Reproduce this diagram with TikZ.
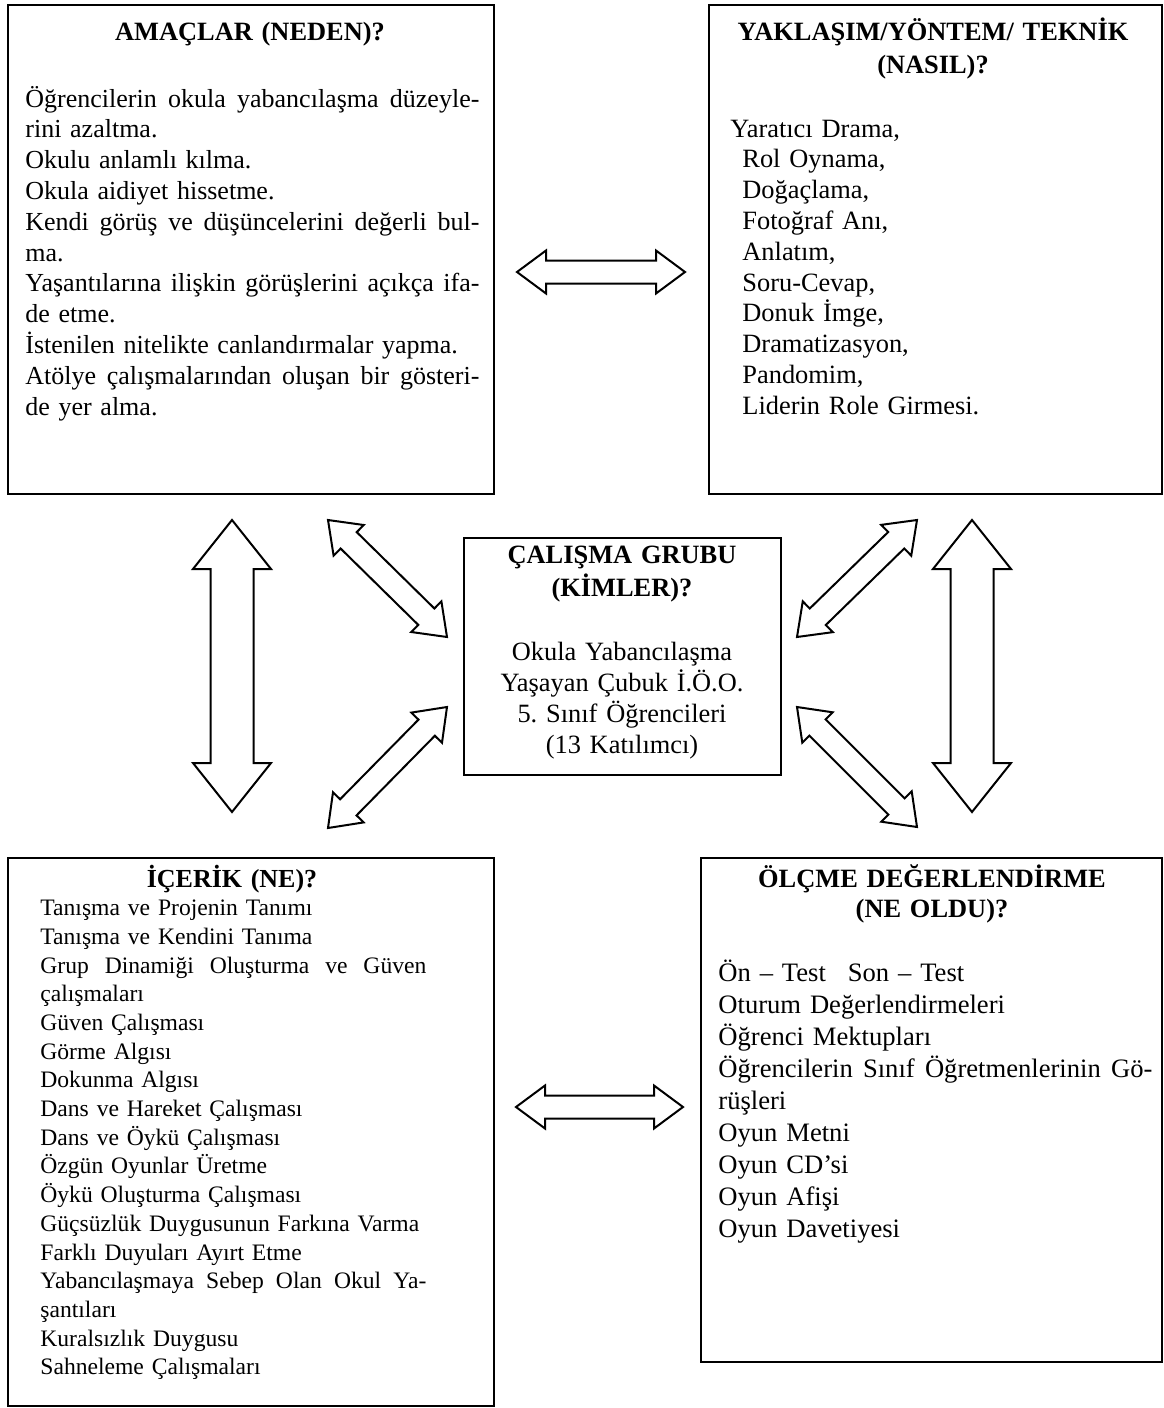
\documentclass[tikz,border=0pt]{standalone}
\usepackage{fontspec}
\setmainfont{Liberation Serif}
\usetikzlibrary{calc}
\frenchspacing

% a justified line: width, text (spaces stretched to the width)
\newcommand{\jsatir}[2]{\makebox[#1][s]{\spaceskip=0pt\xspaceskip=0pt #2}}

\begin{document}
\begin{tikzpicture}[x=0.5pt, y=-0.5pt,
    kutu/.style={draw, line width=1.2pt, anchor=north west, inner sep=0pt},
    baslik/.style={font=\bfseries\fontsize{13.2}{16.5}\selectfont, text width=230pt, align=center, inner sep=0pt, anchor=base},
    metin/.style={font=\fontsize{13.2}{15.4}\selectfont, align=left, inner sep=0pt, anchor=base west},
    blokok/.style n args={3}{line width=1pt, to path={
      -- ($(\tikztostart)!#1!(\tikztotarget)!#2!90:(\tikztotarget)$)
      -- ($(\tikztostart)!#1!(\tikztotarget)!#3!90:(\tikztotarget)$)
      -- ($(\tikztotarget)!#1!(\tikztostart)!#3!-90:(\tikztostart)$)
      -- ($(\tikztotarget)!#1!(\tikztostart)!#2!-90:(\tikztostart)$)
      -- (\tikztotarget)
      -- ($(\tikztotarget)!#1!(\tikztostart)!#2!90:(\tikztostart)$)
      -- ($(\tikztotarget)!#1!(\tikztostart)!#3!90:(\tikztostart)$)
      -- ($(\tikztostart)!#1!(\tikztotarget)!#3!-90:(\tikztotarget)$)
      -- ($(\tikztostart)!#1!(\tikztotarget)!#2!-90:(\tikztotarget)$)
      -- cycle}},
    kucukok/.style={blokok={14.5pt}{10.75pt}{5.75pt}},
    buyukok/.style={blokok={24.5pt}{19.5pt}{10.75pt}}]

    \useasboundingbox (0,0) rectangle (1163,1408);

    % Amaclar
    \node[kutu, minimum width=243pt, minimum height=244.5pt] (amac) at (7,4) {};
    \node[baslik] (amacbas) at (250,40) {AMAÇLAR (NEDEN)?};
    \node[metin, text width=227pt, font=\fontsize{13}{15.4}\selectfont] (amacmet) at (25,107) {
        \jsatir{227pt}{Öğrencilerin okula yabancılaşma düzeyle-}\\
        rini azaltma.\\
        Okulu anlamlı kılma.\\
        Okula aidiyet hissetme.\\
        \jsatir{227pt}{Kendi görüş ve düşüncelerini değerli bul-}\\
        ma.\\
        \jsatir{227pt}{Yaşantılarına ilişkin görüşlerini açıkça ifa-}\\
        de etme.\\
        İstenilen nitelikte canlandırmalar yapma.\\
        \jsatir{227pt}{Atölye çalışmalarından oluşan bir gösteri-}\\
        de yer alma.};

    % Yontem
    \node[kutu, minimum width=226.5pt, minimum height=244.5pt] (yontem) at (708,4) {};
    \node[baslik] (yontembas) at (933,40) {YAKLAŞIM/YÖNTEM/ TEKNİK\\(NASIL)?};
    \node[metin, text width=200pt] (yontemmet) at (730,137) {
        Yaratıcı Drama,\\
        \hspace*{6pt}Rol Oynama,\\
        \hspace*{6pt}Doğaçlama,\\
        \hspace*{6pt}Fotoğraf Anı,\\
        \hspace*{6pt}Anlatım,\\
        \hspace*{6pt}Soru-Cevap,\\
        \hspace*{6pt}Donuk İmge,\\
        \hspace*{6pt}Dramatizasyon,\\
        \hspace*{6pt}Pandomim,\\
        \hspace*{6pt}Liderin Role Girmesi.};

    % Calisma grubu
    \node[kutu, minimum width=158.5pt, minimum height=118.5pt] (grup) at (463,537) {};
    \node[baslik, text width=150pt] (grupbas) at (622,563) {ÇALIŞMA GRUBU\\(KİMLER)?};
    \node[metin, text width=150pt, align=center, anchor=base, font=\fontsize{13.2}{15.5}\selectfont] (grupmet) at (622,660) {
        Okula Yabancılaşma\\
        Yaşayan Çubuk İ.Ö.O.\\
        5. Sınıf Öğrencileri\\
        (13 Katılımcı)};

    % Icerik
    \node[kutu, minimum width=243pt, minimum height=274pt] (icerik) at (7,857) {};
    \node[baslik, font=\bfseries\fontsize{13}{16}\selectfont] (icerikbas) at (232,887) {İÇERİK (NE)?};
    \node[metin, text width=193pt, font=\fontsize{11.8}{14.35}\selectfont] (icerikmet) at (40,915.6) {
        Tanışma ve Projenin Tanımı\\
        Tanışma ve Kendini Tanıma\\
        \jsatir{193pt}{Grup Dinamiği Oluşturma ve Güven}\\
        çalışmaları\\
        Güven Çalışması\\
        Görme Algısı\\
        Dokunma Algısı\\
        Dans ve Hareket Çalışması\\
        Dans ve Öykü Çalışması\\
        Özgün Oyunlar Üretme\\
        Öykü Oluşturma Çalışması\\
        Güçsüzlük Duygusunun Farkına Varma\\
        Farklı Duyuları Ayırt Etme\\
        \jsatir{193pt}{Yabancılaşmaya Sebep Olan Okul Ya-}\\
        şantıları\\
        Kuralsızlık Duygusu\\
        Sahneleme Çalışmaları};

    % Olcme
    \node[kutu, minimum width=230.5pt, minimum height=252pt] (olcme) at (700,857) {};
    \node[baslik, font=\bfseries\fontsize{13.2}{15}\selectfont] (olcmebas) at (932,887) {ÖLÇME DEĞERLENDİRME\\(NE OLDU)?};
    \node[metin, text width=217pt, font=\fontsize{13.3}{16}\selectfont] (olcmemet) at (718,981) {
        Ön – Test\hspace{11pt}Son – Test\\
        Oturum Değerlendirmeleri\\
        Öğrenci Mektupları\\
        \jsatir{217pt}{Öğrencilerin Sınıf Öğretmenlerinin Gö-}\\
        rüşleri\\
        Oyun Metni\\
        Oyun CD’si\\
        Oyun Afişi\\
        Oyun Davetiyesi};

    % Arrow ends
    \coordinate (ust1) at (517,272);   \coordinate (ust2) at (685,272);
    \coordinate (alt1) at (516,1107);  \coordinate (alt2) at (683,1107);
    \coordinate (sol1) at (232,520);   \coordinate (sol2) at (232,812);
    \coordinate (sag1) at (972,520);   \coordinate (sag2) at (972,812);
    \coordinate (sus1) at (328,520);   \coordinate (sus2) at (447,637);
    \coordinate (sal1) at (328,828);   \coordinate (sal2) at (447,707);
    \coordinate (gus1) at (917,520);   \coordinate (gus2) at (797,637);
    \coordinate (gal1) at (917,827);   \coordinate (gal2) at (797,707);

    % Block arrows
    \draw[kucukok] (ust1) to (ust2);
    \draw[kucukok] (alt1) to (alt2);
    \draw[buyukok] (sol1) to (sol2);
    \draw[buyukok] (sag1) to (sag2);
    \draw[kucukok] (sus1) to (sus2);
    \draw[kucukok] (sal1) to (sal2);
    \draw[kucukok] (gus1) to (gus2);
    \draw[kucukok] (gal1) to (gal2);
\end{tikzpicture}
\end{document}
